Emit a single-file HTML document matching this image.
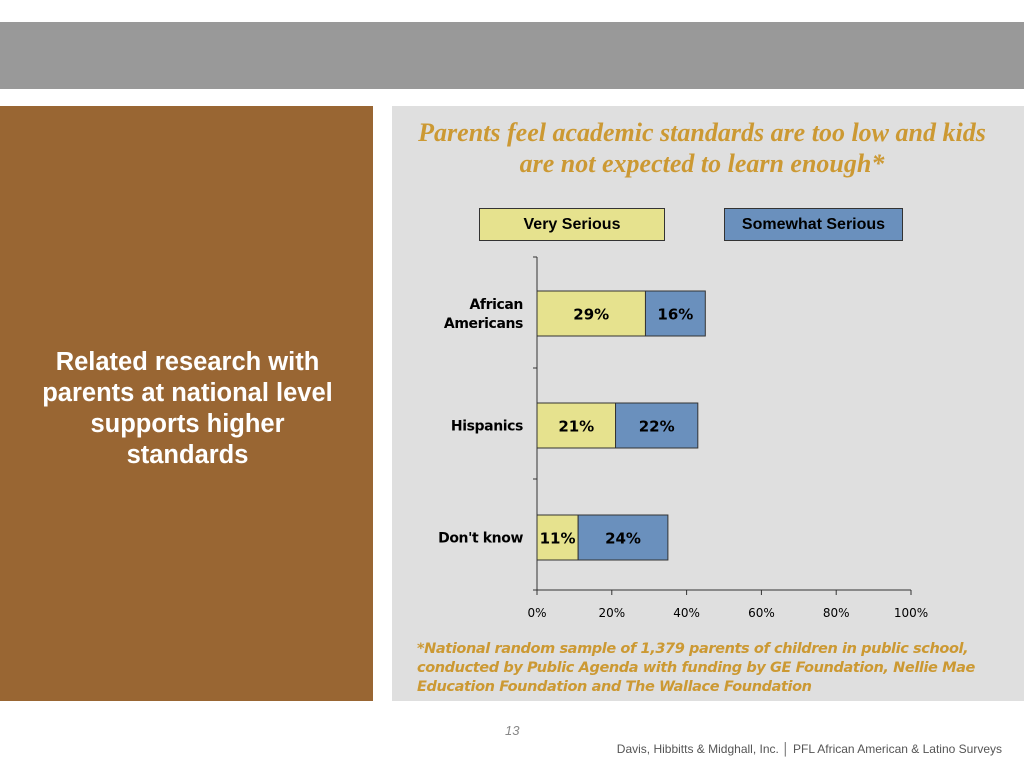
<!DOCTYPE html>
<html><head><meta charset="utf-8"><style>
body{margin:0;width:1024px;height:768px;background:#fff;position:relative;overflow:hidden;font-family:"Liberation Sans",sans-serif}
</style></head><body>
<div style="position:absolute;left:0;top:22px;width:1024px;height:67px;background:#999999"></div>
<div style="position:absolute;left:0;top:106px;width:373px;height:595px;background:#996633"></div>
<div style="position:absolute;left:0;top:347px;width:375px;color:#fff;font-weight:bold;font-size:25.5px;line-height:31px;text-align:center">Related research with<br>parents at national level<br>supports higher<br>standards</div>
<div style="position:absolute;left:392px;top:106px;width:632px;height:595px;background:#dfdfdf"></div>
<div style="position:absolute;left:392px;top:117px;width:620px;text-align:center;font-family:'Liberation Serif',serif;font-style:italic;font-weight:bold;font-size:26px;line-height:31px;color:#cc9933;white-space:nowrap">Parents feel academic standards are too low and kids<br>are not expected to learn enough*</div>
<div style="position:absolute;left:479px;top:208px;width:186px;height:33px;background:#e6e28e;border:1px solid #333;box-sizing:border-box;text-align:center;font-weight:bold;font-size:16px;line-height:31px">Very Serious</div>
<div style="position:absolute;left:724px;top:208px;width:179px;height:33px;background:#6a90bd;border:1px solid #333;box-sizing:border-box;text-align:center;font-weight:bold;font-size:16px;line-height:31px">Somewhat Serious</div>
<svg id="chart" style="position:absolute;left:0;top:0" width="1024" height="768" font-family="'DejaVu Sans',sans-serif"></svg>
<div style="position:absolute;left:417px;top:640px;width:600px;font-style:italic;font-weight:bold;font-size:14.5px;line-height:19px;color:#cc9933;font-family:'DejaVu Sans',sans-serif;letter-spacing:-0.4px">*National random sample of 1,379 parents of children in public school, conducted by Public Agenda with funding by GE Foundation, Nellie Mae Education Foundation and The Wallace Foundation</div>
<div style="position:absolute;left:505px;top:723px;font-style:italic;font-size:13px;color:#888">13</div>
<div style="position:absolute;right:22px;top:742px;font-size:12px;color:#555">Davis, Hibbitts &amp; Midghall, Inc. │ PFL African American &amp; Latino Surveys</div>
<script>
const categories=[["African","Americans"],["Hispanics"],["Don't know"]];
const verySerious=[29,21,11];
const somewhatSerious=[16,22,24];
const ticks=[0,20,40,60,80,100];
const svg=document.getElementById('chart');
const NS='http://www.w3.org/2000/svg';
const x0=537,x1=911,yTop=257,yBot=590;
const xs=v=>x0+(x1-x0)*v/100;
const band=(yBot-yTop)/categories.length;
function mk(t,a){const e=document.createElementNS(NS,t);for(const k in a)e.setAttribute(k,a[k]);svg.appendChild(e);return e;}
let ax=mk('line',{x1:x0,y1:yTop,x2:x0,y2:yBot,stroke:'#333'});


let bx=mk('line',{x1:x0,y1:yBot,x2:x1,y2:yBot,stroke:'#333'});


for(let i=0;i<=categories.length;i++){const y=yTop+band*i;mk('line',{x1:x0-4,y1:y,x2:x0,y2:y,stroke:'#333'});}
ticks.forEach(t=>{const x=xs(t);mk('line',{x1:x,y1:yBot,x2:x,y2:yBot+5,stroke:'#333'});
const tx=mk('text',{x:x,y:yBot+27,'text-anchor':'middle','font-size':12,fill:'#000'});tx.textContent=t+'%';

});
categories.forEach((c,i)=>{const yc=yTop+band*(i+0.5)+1+i;const h=45;const y=yc-h/2;
const a=mk('rect',{x:xs(0),y:y,width:xs(verySerious[i])-xs(0),height:h,fill:'#e6e28e',stroke:'#333'});


const b=mk('rect',{x:xs(verySerious[i]),y:y,width:xs(verySerious[i]+somewhatSerious[i])-xs(verySerious[i]),height:h,fill:'#6a90bd',stroke:'#333'});


const la=mk('text',{x:(xs(0)+xs(verySerious[i]))/2,y:yc+6,'text-anchor':'middle','font-size':15,'font-weight':'bold'});la.textContent=verySerious[i]+'%';


const lb=mk('text',{x:(xs(verySerious[i])+xs(verySerious[i]+somewhatSerious[i]))/2,y:yc+6,'text-anchor':'middle','font-size':15,'font-weight':'bold'});lb.textContent=somewhatSerious[i]+'%';


const lines=c;lines.forEach((s,j)=>{const t=mk('text',{x:x0-14,y:yc+5+(j-(lines.length-1)/2)*19,'text-anchor':'end','font-size':14,'font-weight':'bold','letter-spacing':'-0.4'});t.textContent=s;

});
});
</script>
</body></html>
